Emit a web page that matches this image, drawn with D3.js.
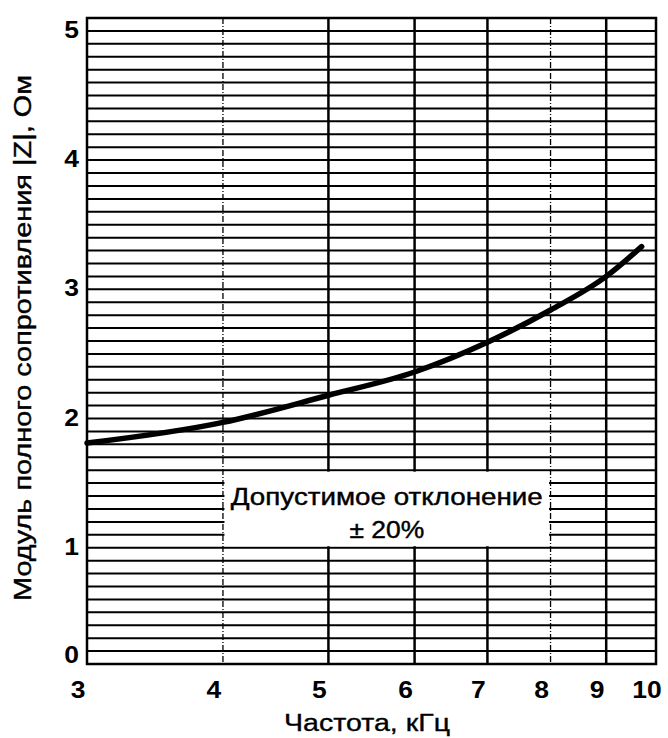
<!DOCTYPE html>
<html>
<head>
<meta charset="utf-8">
<script src="https://cdn.jsdelivr.net/npm/d3@7"></script>
<style>
  html, body { margin: 0; padding: 0; background: #fff; }
  svg { display: block; }
  text { font-family: "Liberation Sans", Arial, sans-serif; fill: #000; }
</style>
</head>
<body>
<script>
// ---- data ----
const freqs = [3, 4, 5, 6, 7, 8, 9, 9.7];                          // kHz
const impedance = [1.71, 1.87, 2.08, 2.26, 2.49, 2.74, 3.0, 3.23]; // Ohm
const xTicks = [3, 4, 5, 6, 7, 8, 9, 10];
const xDashedTicks = [4, 8];
const yTicks = [0, 1, 2, 3, 4, 5];
const yMinorStep = 0.1;
const xTitle = "Частота, кГц";
const yTitle = "Модуль полного сопротивления |Z|, Ом";
const noteLines = ["Допустимое отклонение", "± 20%"];
const noteBox = { x0: 4, x1: 8, y0: 0.9, y1: 1.5 };

// ---- layout ----
const W = 668, H = 738;
const m = { left: 87, right: 12, top: 18, bottom: 74 };
const iw = W - m.left - m.right, ih = H - m.top - m.bottom;
const SX = 1.15; // horizontal stretch of the lettering

const svg = d3.select("body").append("svg").attr("width", W).attr("height", H);
const g = svg.append("g").attr("transform", `translate(${m.left},${m.top})`);

const x = d3.scaleLog().domain([3, 10]).range([0, iw]);
const y = d3.scaleLinear().domain([0, 5]).range([ih, 0]);

// horizontal grid (every 0.1)
const hLines = d3.range(1, 50).map(i => +(i * yMinorStep).toFixed(2));
g.append("g").selectAll("line").data(hLines).join("line")
  .attr("x1", 0).attr("x2", iw)
  .attr("y1", d => y(d)).attr("y2", d => y(d))
  .attr("stroke", "#000").attr("stroke-width", 2);

// vertical grid
g.append("g").selectAll("line").data(xTicks.filter(d => d > 3 && d < 10)).join("line")
  .attr("x1", d => x(d)).attr("x2", d => x(d))
  .attr("y1", 0).attr("y2", ih)
  .attr("stroke", "#000")
  .attr("stroke-width", d => xDashedTicks.includes(d) ? 1.3 : 2.5)
  .attr("stroke-dasharray", d => xDashedTicks.includes(d) ? "6,2,1,2" : null);

// frame
g.append("rect").attr("x", 0).attr("y", 0).attr("width", iw).attr("height", ih)
  .attr("fill", "none").attr("stroke", "#000").attr("stroke-width", 2.5);

// note box
g.append("rect")
  .attr("x", x(noteBox.x0) + 1.5).attr("y", y(noteBox.y1) + 1.5)
  .attr("width", x(noteBox.x1) - x(noteBox.x0) - 3)
  .attr("height", y(noteBox.y0) - y(noteBox.y1) - 3)
  .attr("fill", "#fff");
const cx = (x(noteBox.x0) + x(noteBox.x1)) / 2;
g.append("text").attr("x", cx).attr("y", y(noteBox.y1) + 35)
  .attr("text-anchor", "middle").attr("font-size", 23)
  .attr("textLength", 312).attr("lengthAdjust", "spacingAndGlyphs")
  .style("stroke", "#000").style("stroke-width", 0.4)
  .text(noteLines[0]);
g.append("text")
  .attr("transform", `translate(${cx},${y(noteBox.y1) + 68}) scale(${SX},1)`)
  .attr("text-anchor", "middle").attr("font-size", 23)
  .style("stroke", "#000").style("stroke-width", 0.4)
  .text(noteLines[1]);

// curve
const pts = freqs.map((f, i) => [f, impedance[i]]);
g.append("path").datum(pts)
  .attr("fill", "none").attr("stroke", "#000").attr("stroke-width", 5.5)
  .attr("stroke-linecap", "round")
  .attr("d", d3.line().x(d => x(d[0])).y(d => y(d[1])).curve(d3.curveMonotoneX));

// y tick labels
g.append("g").selectAll("text").data(yTicks).join("text")
  .attr("transform", d => `translate(-8,${y(d) + (d === 0 ? -9 : 12)}) scale(${SX},1)`)
  .attr("dy", "0.35em").attr("text-anchor", "end")
  .attr("font-size", 23).attr("font-weight", "bold")
  .text(d => d);

// x tick labels
g.append("g").selectAll("text").data(xTicks).join("text")
  .attr("transform", d => `translate(${x(d) - 9},${ih + 26}) scale(${SX},1)`)
  .attr("dy", "0.35em").attr("text-anchor", "middle")
  .attr("font-size", 23).attr("font-weight", "bold")
  .text(d => d);

// titles
svg.append("text").attr("x", 367).attr("y", H - 7)
  .attr("text-anchor", "middle").attr("font-size", 23)
  .attr("textLength", 166).attr("lengthAdjust", "spacingAndGlyphs")
  .style("stroke", "#000").style("stroke-width", 0.35)
  .text(xTitle);
svg.append("text")
  .attr("transform", `translate(31,338) rotate(-90) scale(1,${SX})`)
  .attr("text-anchor", "middle").attr("font-size", 21)
  .attr("textLength", 526).attr("lengthAdjust", "spacingAndGlyphs")
  .style("stroke", "#000").style("stroke-width", 0.35)
  .text(yTitle);
</script>
</body>
</html>
